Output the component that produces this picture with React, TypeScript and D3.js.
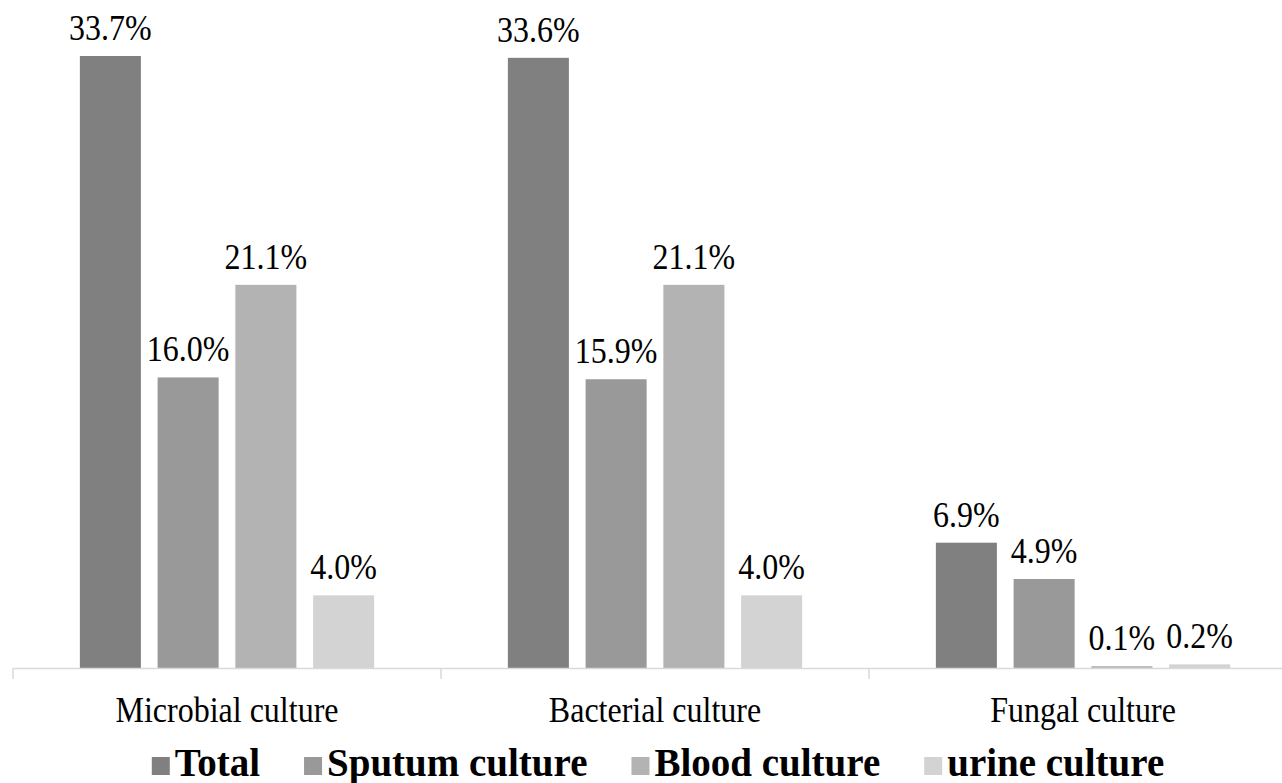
import { useRef, useEffect } from "react";
import * as d3 from "d3";

const categories = ["Microbial culture", "Bacterial culture", "Fungal culture"];
const seriesNames = ["Total", "Sputum culture", "Blood culture", "urine culture"];
const totalValues = [33.7, 33.6, 6.9];
const sputumValues = [16.0, 15.9, 4.9];
const bloodValues = [21.1, 21.1, 0.1];
const urineValues = [4.0, 4.0, 0.2];
const seriesColors = ["#808080", "#999999", "#b3b3b3", "#d3d3d3"];

const W = 1282;
const H = 783;

export default function App() {
  const ref = useRef(null);

  useEffect(() => {
    const svg = d3.select(ref.current);
    svg.selectAll("*").remove();

    const series = [totalValues, sputumValues, bloodValues, urineValues];
    const baseY = 668;

    const x0 = d3.scaleBand().domain(categories).range([13, 1297]).padding(0);
    const x1 = d3
      .scaleBand()
      .domain(seriesNames)
      .range([0, x0.bandwidth()])
      .paddingInner(0.215)
      .paddingOuter(0.86);
    const y = d3.scaleLinear().domain([0, 33.7]).range([baseY, 56]);

    // text in the reference looks a bit stretched vertically
    const label = (sel, x, yy, size) =>
      sel
        .append("text")
        .attr("transform", `translate(${x},${yy}) scale(1,1.12)`)
        .attr("text-anchor", "middle")
        .style("font-size", size + "px")
        .attr("fill", "#000");

    categories.forEach((cat, ci) => {
      const g = svg.append("g").attr("transform", `translate(${x0(cat)},0)`);
      seriesNames.forEach((s, si) => {
        const v = series[si][ci];
        g.append("rect")
          .attr("x", x1(s))
          .attr("y", y(v))
          .attr("width", x1.bandwidth())
          .attr("height", baseY - y(v))
          .attr("fill", seriesColors[si]);
        label(g, x1(s) + x1.bandwidth() / 2, y(v) - 16, 32).text(v.toFixed(1) + "%");
      });
    });

    // category axis
    const axis = svg
      .append("g")
      .attr("transform", `translate(0,${baseY})`)
      .call(d3.axisBottom(x0).tickSize(0).tickFormat(() => ""));
    axis.select(".domain").attr("stroke", "#d9d9d9").attr("stroke-width", 1.5);
    axis.selectAll(".tick").remove();
    const bounds = [13, ...categories.map((c) => x0(c) + x0.bandwidth())];
    bounds.forEach((b) => {
      svg.append("line")
        .attr("x1", b).attr("x2", b)
        .attr("y1", baseY).attr("y2", baseY + 11)
        .attr("stroke", "#d9d9d9").attr("stroke-width", 1.5);
    });
    categories.forEach((c) => {
      label(svg, x0(c) + x0.bandwidth() / 2, 722, 32).text(c);
    });

    // legend
    const leg = svg.append("g");
    let cx = 0;
    const box = 18;
    seriesNames.forEach((s, si) => {
      leg.append("rect")
        .attr("x", cx).attr("y", 757)
        .attr("width", box).attr("height", box)
        .attr("fill", seriesColors[si]);
      const t = leg.append("text")
        .attr("x", cx + box + 5)
        .attr("y", 776)
        .style("font-weight", "bold")
        .style("font-size", "39px")
        .attr("fill", "#000")
        .text(s);
      const tw = t.node().getComputedTextLength();
      cx += box + 5 + tw + (si < seriesNames.length - 1 ? 44 : 0);
    });
    leg.attr("transform", `translate(${658 - cx / 2},0)`);
  }, []);

  return (
    <svg
      ref={ref}
      width={W}
      height={H}
      style={{
        position: "absolute",
        left: 0,
        top: 0,
        background: "#fff",
        fontFamily: '"Liberation Serif", "Times New Roman", Times, serif',
      }}
    ></svg>
  );
}
